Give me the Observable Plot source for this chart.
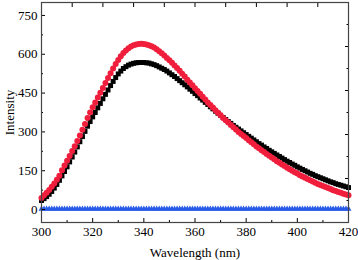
<!DOCTYPE html>
<html><head><meta charset="utf-8">
<script src="https://cdn.jsdelivr.net/npm/d3@7"></script>
<script src="https://cdn.jsdelivr.net/npm/@observablehq/plot@0.6"></script>
<style>body{margin:0;background:#fff}</style>
</head><body><div id="chart"></div>
<script>
const wavelength = [300,301,302,303,304,305,306,307,308,309,310,311,312,313,314,315,316,317,318,319,320,321,322,323,324,325,326,327,328,329,330,331,332,333,334,335,336,337,338,339,340,341,342,343,344,345,346,347,348,349,350,351,352,353,354,355,356,357,358,359,360,361,362,363,364,365,366,367,368,369,370,371,372,373,374,375,376,377,378,379,380,381,382,383,384,385,386,387,388,389,390,391,392,393,394,395,396,397,398,399,400,401,402,403,404,405,406,407,408,409,410,411,412,413,414,415,416,417,418,419,420];
const intensityRed = [45,55,65,76,88,101,115,131,152,170,189,207,226,245,265,286,308,331,354,375,395,414,433,451,470,489,508,527,545,562,578,592,605,615,623,630,635,638,640,641,640,638,635,631,626,619,612,604,595,586,577,567,557,547,536,525,514,502,491,480,469,458,447,436,425,414,404,394,384,374,364,354,345,336,327,318,309,300,292,284,276,268,260,252,244,237,229,222,215,208,201,194,187,181,174,168,162,156,150,144,139,133,128,123,118,113,108,104,99,95,91,87,83,79,75,72,68,65,61,58,55];
const intensityBlack = [35,42,50,59,70,83,97,113,130,147,165,184,203,222,242,262,282,302,322,340,358,375,393,410,428,445,462,479,495,510,524,535,545,552,558,562,565,567,568,568,568,567,566,563,560,556,551,546,541,535,528,521,514,506,498,490,482,474,465,457,448,440,431,423,414,406,397,389,380,372,364,356,348,340,333,325,318,311,304,297,290,283,276,269,262,255,249,242,236,229,223,217,211,205,199,193,187,182,176,171,165,160,155,150,145,140,136,131,127,123,119,115,111,107,104,100,97,94,91,88,85];
const intensityBlue = [2,2,2,2,2,2,2,2,2,2,2,2,2,2,2,2,2,2,2,2,2,2,2,2,2,2,2,2,2,2,2,2,2,2,2,2,2,2,2,2,2,2,2,2,2,2,2,2,2,2,2,2,2,2,2,2,2,2,2,2,2,2,2,2,2,2,2,2,2,2,2,2,2,2,2,2,2,2,2,2,2,2,2,2,2,2,2,2,2,2,2,2,2,2,2,2,2,2,2,2,2,2,2,2,2,2,2,2,2,2,2,2,2,2,2,2,2,2,2,2,2];
const xTicks = [300,320,340,360,380,400,420];
const xMinorTicks = [310,330,350,370,390,410];
const yTicks = [0,150,300,450,600,750];
const yMinorTicks = [75,225,375,525,675];
const topTicks = [312,324,336,348,360,372,384,396,408];
const rightMajorTicks = [120,290,460,630];
const rightMinorTicks = [35,205,375,545,715];

const rows = wavelength.map((w, i) => ({w, red: intensityRed[i], black: intensityBlack[i], blue: intensityBlue[i]}));
const blank = () => "";

const chart = Plot.plot({
  width: 358, height: 260,
  marginLeft: 41, marginRight: 10, marginTop: 2, marginBottom: 38,
  style: {fontFamily: "'Liberation Serif', 'Times New Roman', serif", fontSize: "13px", color: "#000", background: "#fff"},
  x: {domain: [300, 420]},
  y: {domain: [-50, 800]},
  marks: [
    Plot.dot(rows, {x: "w", y: "black", symbol: "square", r: 2.8, fill: "#000", stroke: "none"}),
    Plot.dot(rows, {x: "w", y: "red", r: 3, fill: "#f01e3c", stroke: "none"}),
    Plot.dot(rows, {x: "w", y: "blue", symbol: "triangle", r: 2.2, fill: "#2a5be8", stroke: "none"}),
    Plot.axisX(xTicks, {tickSize: -4, tickPadding: 8, fontSize: 13, label: "Wavelength (nm)", labelAnchor: "center", labelOffset: 34, labelArrow: "none"}),
    Plot.axisX(xMinorTicks, {tickSize: -2, tickFormat: blank, label: null}),
    Plot.axisX(topTicks, {anchor: "top", tickSize: -4, tickFormat: blank, label: null}),
    Plot.axisY(yTicks, {tickSize: -4, tickPadding: 8, fontSize: 13, label: "Intensity", labelAnchor: "center", labelOffset: 37, labelArrow: "none"}),
    Plot.axisY(yMinorTicks, {tickSize: -2, tickFormat: blank, label: null}),
    Plot.axisY(rightMajorTicks, {anchor: "right", tickSize: -4, tickFormat: blank, label: null}),
    Plot.axisY(rightMinorTicks, {anchor: "right", tickSize: -2.5, tickFormat: blank, label: null}),
    Plot.frame({stroke: "#444", strokeWidth: 1.2})
  ]
});
document.getElementById("chart").appendChild(chart);
</script>
</body></html>
